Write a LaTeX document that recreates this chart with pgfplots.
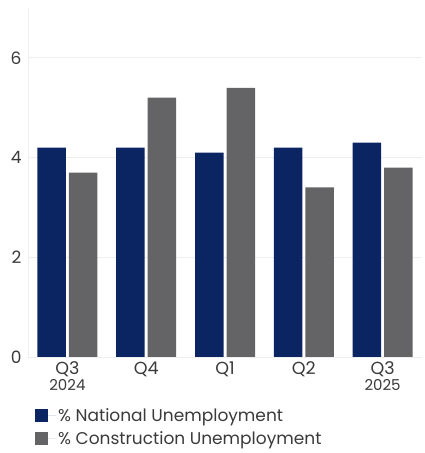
\documentclass[border=0pt]{standalone}
\usepackage{pgfplots}
\pgfplotsset{compat=1.18}
\usepackage{fontspec}
\setmainfont{Poppins}
\definecolor{navy}{HTML}{0B2462}
\definecolor{cgray}{HTML}{646466}
\definecolor{txt}{HTML}{3A3A3A}
\definecolor{gridc}{HTML}{EEEEEE}
\begin{document}
\begin{tikzpicture}
\begin{axis}[
  name=ax,
  scale only axis,
  width=394pt, height=349pt,
  ybar=3pt,
  bar width=28.5pt,
  xmin=-0.5, xmax=4.5,
  ymin=0, ymax=7,
  xtick={0,1,2,3,4},
  xticklabels={Q3\\{\fontsize{15}{15}\selectfont 2024}, Q4, Q1, Q2, Q3\\{\fontsize{15}{15}\selectfont 2025}},
  ytick={0,2,4,6},
  ymajorgrids,
  grid style={draw=gridc, line width=0.8pt},
  major tick length=0pt,
  axis x line*=bottom,
  axis y line*=left,
  x axis line style={draw=none},
  y axis line style={draw=gridc, line width=0.8pt, -},
  xticklabel style={align=center, anchor=north, text=txt, font=\fontsize{17.5}{16}\selectfont, yshift=-1pt},
  yticklabel style={text=txt, font=\fontsize{17}{17}\selectfont, xshift=-3pt},
  /pgf/number format/assume math mode=true,
  legend style={at={(rel axis cs:0,0)}, anchor=north west, xshift=4pt, yshift=-47pt, draw=none, fill=none,
    font=\fontsize{17}{17}\selectfont, text=txt, row sep=5pt, /tikz/every even column/.append style={column sep=4pt}},
  legend cell align=left,
  legend image code/.code={\fill[#1] (0pt,-6.5pt) rectangle (13pt,6.5pt); \path (13pt,0) -- (21pt,0);},
]
\addplot[draw=none, fill=navy] coordinates {(0,4.2) (1,4.2) (2,4.1) (3,4.2) (4,4.3)};
\addplot[draw=none, fill=cgray] coordinates {(0,3.7) (1,5.2) (2,5.4) (3,3.4) (4,3.8)};
\legend{\% National Unemployment, \% Construction Unemployment}
\end{axis}
\pgfresetboundingbox
\path ([xshift=-28pt,yshift=-96pt]ax.south west) rectangle ([xshift=2pt,yshift=8pt]ax.north east);
\end{tikzpicture}
\end{document}
